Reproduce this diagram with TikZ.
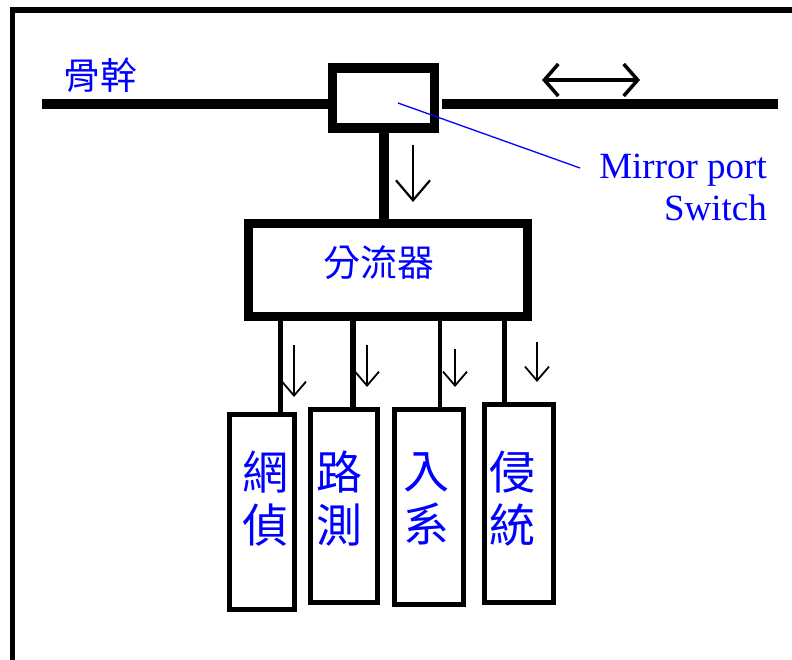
\documentclass[tikz,border=0pt]{standalone}
\usepackage{fontspec}
\setmainfont{Liberation Serif}
\newfontfamily\cjk{Noto Sans CJK TC}
\usetikzlibrary{arrows.meta}
\begin{document}
\begin{tikzpicture}[x=1pt,y=-1pt,
  heavybox/.style={draw,rectangle,line width=9.5pt,inner sep=0pt},
  toolbox/.style={draw,rectangle,line width=5.5pt,inner sep=0pt},
  heavyline/.style={line width=10pt},
  toolline/.style={line width=5.5pt},
  cjklabel/.style={text=blue,inner sep=0pt,font=\cjk\fontsize{37}{37}\selectfont},
  vlabel/.style={text=blue,inner sep=0pt,align=center,font=\cjk\fontsize{46}{53}\selectfont},
  flowarrow/.style={line width=2.2pt,-{Straight Barb[length=20pt,width=34pt]}},
  smallarrow/.style={line width=1.8pt,-{Straight Barb[length=14pt,width=24pt]}},
  bothways/.style={line width=3.5pt,{Straight Barb[length=14pt,width=32pt]}-{Straight Barb[length=14pt,width=32pt]}},
  pointer/.style={draw=blue,line width=1.3pt}
]
\useasboundingbox (0,0) rectangle (792,660);
\fill[white] (0,0) rectangle (792,660);
\begin{scope}
  \clip (0,0) rectangle (792,660);
  \draw[line width=5.5pt] (12.5,10) rectangle (860,720);
\end{scope}

% switch and backbone
\node[heavybox,minimum width=102pt,minimum height=60pt] (sw) at (383.5,98) {};
\coordinate (bbL) at (42,104);
\coordinate (bbR) at (778,104);
\draw[heavyline] (bbL) -- (bbL -| sw.west);
\draw[heavyline] ([xshift=3pt]bbR -| sw.east) -- (bbR);
\node[cjklabel] (bbtext) at (100,75) {骨幹};

% double arrow
\coordinate (dbA) at (542,80);
\coordinate (dbB) at (640,80);
\draw[bothways] (dbA) -- (dbB);

% splitter
\node[heavybox,minimum width=279pt,minimum height=93pt] (sp) at (388,270) {};
\node[cjklabel] (sptext) at (379,263) {分流器};
\draw[heavyline] (sw.south) -- (sw.south |- sp.north);
\coordinate (fa1) at (413,145);
\coordinate (fa2) at (413,202);
\draw[flowarrow] (fa1) -- (fa2);

% mirror port label
\coordinate (mpS) at (398,103);
\coordinate (mpE) at (580,168);
\draw[pointer] (mpS) -- (mpE);
\node[text=blue,inner sep=0pt,align=right,anchor=north east,
      font=\fontsize{37}{42}\selectfont] (mplabel) at (767,154) {Mirror port\\Switch};

% tool boxes
\node[toolbox,minimum width=65pt,minimum height=195pt] (b1) at (262,512) {};
\node[toolbox,minimum width=67pt,minimum height=193pt] (b2) at (344,506) {};
\node[toolbox,minimum width=69pt,minimum height=195pt] (b3) at (429,507) {};
\node[toolbox,minimum width=69pt,minimum height=198pt] (b4) at (519,503.5) {};

\node[vlabel] (t1) at (265,499) {網\\偵};
\node[vlabel] (t2) at (339,499) {路\\測};
\node[vlabel] (t3) at (426,499) {入\\系};
\node[vlabel] (t4) at (512,499) {侵\\統};

\coordinate (c1) at (280.5,0);
\coordinate (c2) at (353,0);
\coordinate (c3) at (440,0);
\coordinate (c4) at (504.5,0);
\draw[toolline] (sp.south -| c1) -- (b1.north -| c1);
\draw[toolline] (sp.south -| c2) -- ([yshift=-4pt]b2.north -| c2);
\draw[line width=4pt] (sp.south -| c3) -- (b3.north -| c3);
\draw[toolline] (sp.south -| c4) -- (b4.north -| c4);

% small arrows
\coordinate (s1a) at (294,345); \coordinate (s1b) at (294,397);
\coordinate (s2a) at (367,345); \coordinate (s2b) at (367,387);
\coordinate (s3a) at (455,349); \coordinate (s3b) at (455,387);
\coordinate (s4a) at (537,342); \coordinate (s4b) at (537,382);
\draw[smallarrow] (s1a) -- (s1b);
\draw[smallarrow] (s2a) -- (s2b);
\draw[smallarrow] (s3a) -- (s3b);
\draw[smallarrow] (s4a) -- (s4b);
\end{tikzpicture}
\end{document}
